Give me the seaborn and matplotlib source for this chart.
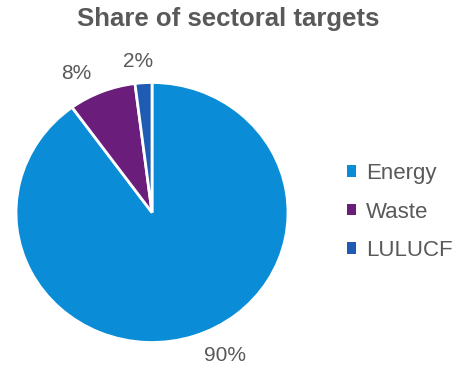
import matplotlib
matplotlib.use("Agg")
import matplotlib.pyplot as plt
import seaborn as sns
from matplotlib.patches import Patch

sectors = ["Energy", "Waste", "LULUCF"]
shares = [90, 8, 2]
colors = ["#0A8DD6", "#6B1D7B", "#1D5CB2"]

sns.set_theme(style="white")
plt.rcParams["font.family"] = ["Liberation Sans", "DejaVu Sans"]

TEXT = "#595959"
W, H = 473, 368
fig = plt.figure(figsize=(W / 100, H / 100), dpi=100)

# pie box in pixels: centre and horizontal / vertical radii
cx, cy, rx, ry = 152, 212.5, 136, 130
ax = fig.add_axes([(cx - rx) / W, (H - cy - ry) / H, 2 * rx / W, 2 * ry / H])

wedges, texts, autotexts = ax.pie(
    shares,
    colors=colors,
    startangle=90,
    counterclock=False,
    autopct=lambda p: f"{p:.0f}%",
    pctdistance=1.15,
    wedgeprops=dict(edgecolor="white", linewidth=2),
    textprops=dict(color=TEXT, fontsize=15),
)
ax.set_xlim(-1, 1)
ax.set_ylim(-1, 1)
ax.set_aspect("auto")
ax.axis("off")

# outside label placement (axes units), Energy / Waste / LULUCF
label_xy = [(0.54, -1.10), (-0.56, 1.07), (-0.10, 1.16)]
for t, (lx, ly) in zip(autotexts, label_xy):
    t.set_position((lx, ly))
    t.set_ha("center")
    t.set_va("center")
    t.set_clip_on(False)

fig.suptitle("Share of sectoral targets", x=228 / W, y=1 - 7 / H, va="top",
             fontsize=18.5, fontweight="bold", color=TEXT)

handles = [Patch(facecolor=c, edgecolor="none") for c in colors]
fig.legend(handles, sectors, loc="center left", bbox_to_anchor=(347 / W, 1 - 212 / H),
           frameon=False, fontsize=16, labelcolor=TEXT, handlelength=0.42,
           handleheight=0.42, handletextpad=0.42, labelspacing=0.78,
           borderpad=0, borderaxespad=0)

fig.savefig("out.png", dpi=100)
